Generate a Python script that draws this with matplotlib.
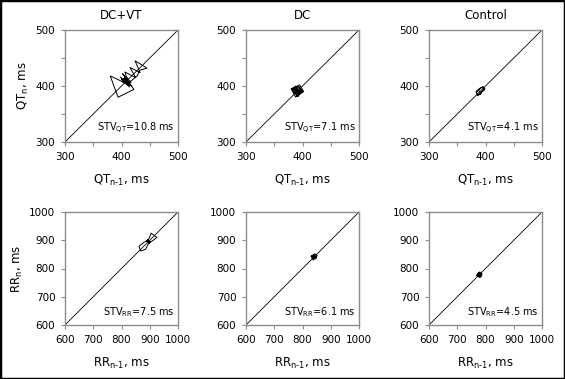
import matplotlib
matplotlib.use("Agg")
import matplotlib.pyplot as plt
from matplotlib.patches import Rectangle

titles = ["DC+VT", "DC", "Control"]

# beat-to-beat series
qt_dcvt = [410, 405, 414, 398, 416, 402, 422, 394, 380, 418, 400, 412, 406,
           425, 415, 433, 424, 445, 432, 428, 418, 410, 404, 413, 401, 408,
           417, 406, 411]
qt_dc = [392, 384, 398, 388, 380, 395, 402, 390, 383, 396, 387, 400, 392,
         381, 394, 399, 389, 393, 386, 397, 391]
qt_ctrl = [388, 392, 386, 383, 390, 396, 399, 395, 391, 386, 384, 389, 394,
           398, 393, 390, 387]

rr_dcvt = [895, 890, 900, 888, 897, 905, 925, 910, 898, 892, 902, 894, 885,
           868, 862, 878, 892, 899, 890, 896]
rr_dc = [840, 848, 834, 845, 838, 830, 843, 852, 846, 836, 841, 849, 839,
         833, 844]
rr_ctrl = [778, 785, 772, 780, 788, 781, 768, 775, 784, 779, 771, 777, 782]

stv_qt = [10.8, 7.1, 4.1]
stv_rr = [7.5, 6.1, 4.5]

qt_ticks = [300, 400, 500]
qt_minor = [350, 450]
rr_ticks = [600, 700, 800, 900, 1000]

W, H = 565, 379
fig = plt.figure(figsize=(W / 100, H / 100), dpi=100)
fig.patches.append(Rectangle((0, 0), 1, 1, transform=fig.transFigure,
                             fill=False, edgecolor="black", linewidth=2.5))

lefts = [65, 246, 429]
gray = "#8c8c8c"
HY = "\u2010"  # plain hyphen for the n-1 subscript


def make_ax(left, top, bottom):
    ax = fig.add_axes([left / W, 1 - bottom / H, 113 / W, (bottom - top) / H])
    for s in ax.spines.values():
        s.set_color(gray)
        s.set_linewidth(1.0)
    ax.tick_params(direction="out", length=3, width=0.8, color=gray,
                   labelsize=7.5, pad=4)
    ax.tick_params(which="minor", direction="out", length=3, width=0.8,
                   color=gray)
    return ax


def poincare(ax, series, lo, hi):
    ax.plot([lo, hi], [lo, hi], color="black", lw=0.6)
    ax.plot(series[:-1], series[1:], color="black", lw=0.7)
    ax.set_xlim(lo, hi)
    ax.set_ylim(lo, hi)


qt_sets = [qt_dcvt, qt_dc, qt_ctrl]
rr_sets = [rr_dcvt, rr_dc, rr_ctrl]

for i in range(3):
    ax = make_ax(lefts[i], 30, 142)
    poincare(ax, qt_sets[i], 300, 500)
    ax.set_xticks(qt_ticks)
    ax.set_yticks(qt_ticks)
    ax.set_xticks(qt_minor, minor=True)
    ax.set_yticks(qt_minor, minor=True)
    ax.set_title(titles[i], fontsize=8.5, pad=8)
    ax.set_xlabel(r"QT$_{\mathregular{n%s1}}$, ms" % HY, fontsize=8.5,
                  labelpad=8)
    if i == 0:
        ax.set_ylabel(r"QT$_{\mathregular{n}}$, ms", fontsize=8.5, labelpad=3)
    ax.text(0.97, 0.05, r"STV$_{\mathregular{QT}}$=%.1f ms" % stv_qt[i],
            transform=ax.transAxes, ha="right", va="bottom", fontsize=7)

    ax = make_ax(lefts[i], 212, 325)
    poincare(ax, rr_sets[i], 600, 1000)
    ax.set_xticks(rr_ticks)
    ax.set_yticks(rr_ticks)
    ax.set_xlabel(r"RR$_{\mathregular{n%s1}}$, ms" % HY, fontsize=8.5,
                  labelpad=8)
    if i == 0:
        ax.set_ylabel(r"RR$_{\mathregular{n}}$, ms", fontsize=8.5, labelpad=3)
    ax.text(0.97, 0.05, r"STV$_{\mathregular{RR}}$=%.1f ms" % stv_rr[i],
            transform=ax.transAxes, ha="right", va="bottom", fontsize=7)

fig.savefig("out.png", dpi=100)
